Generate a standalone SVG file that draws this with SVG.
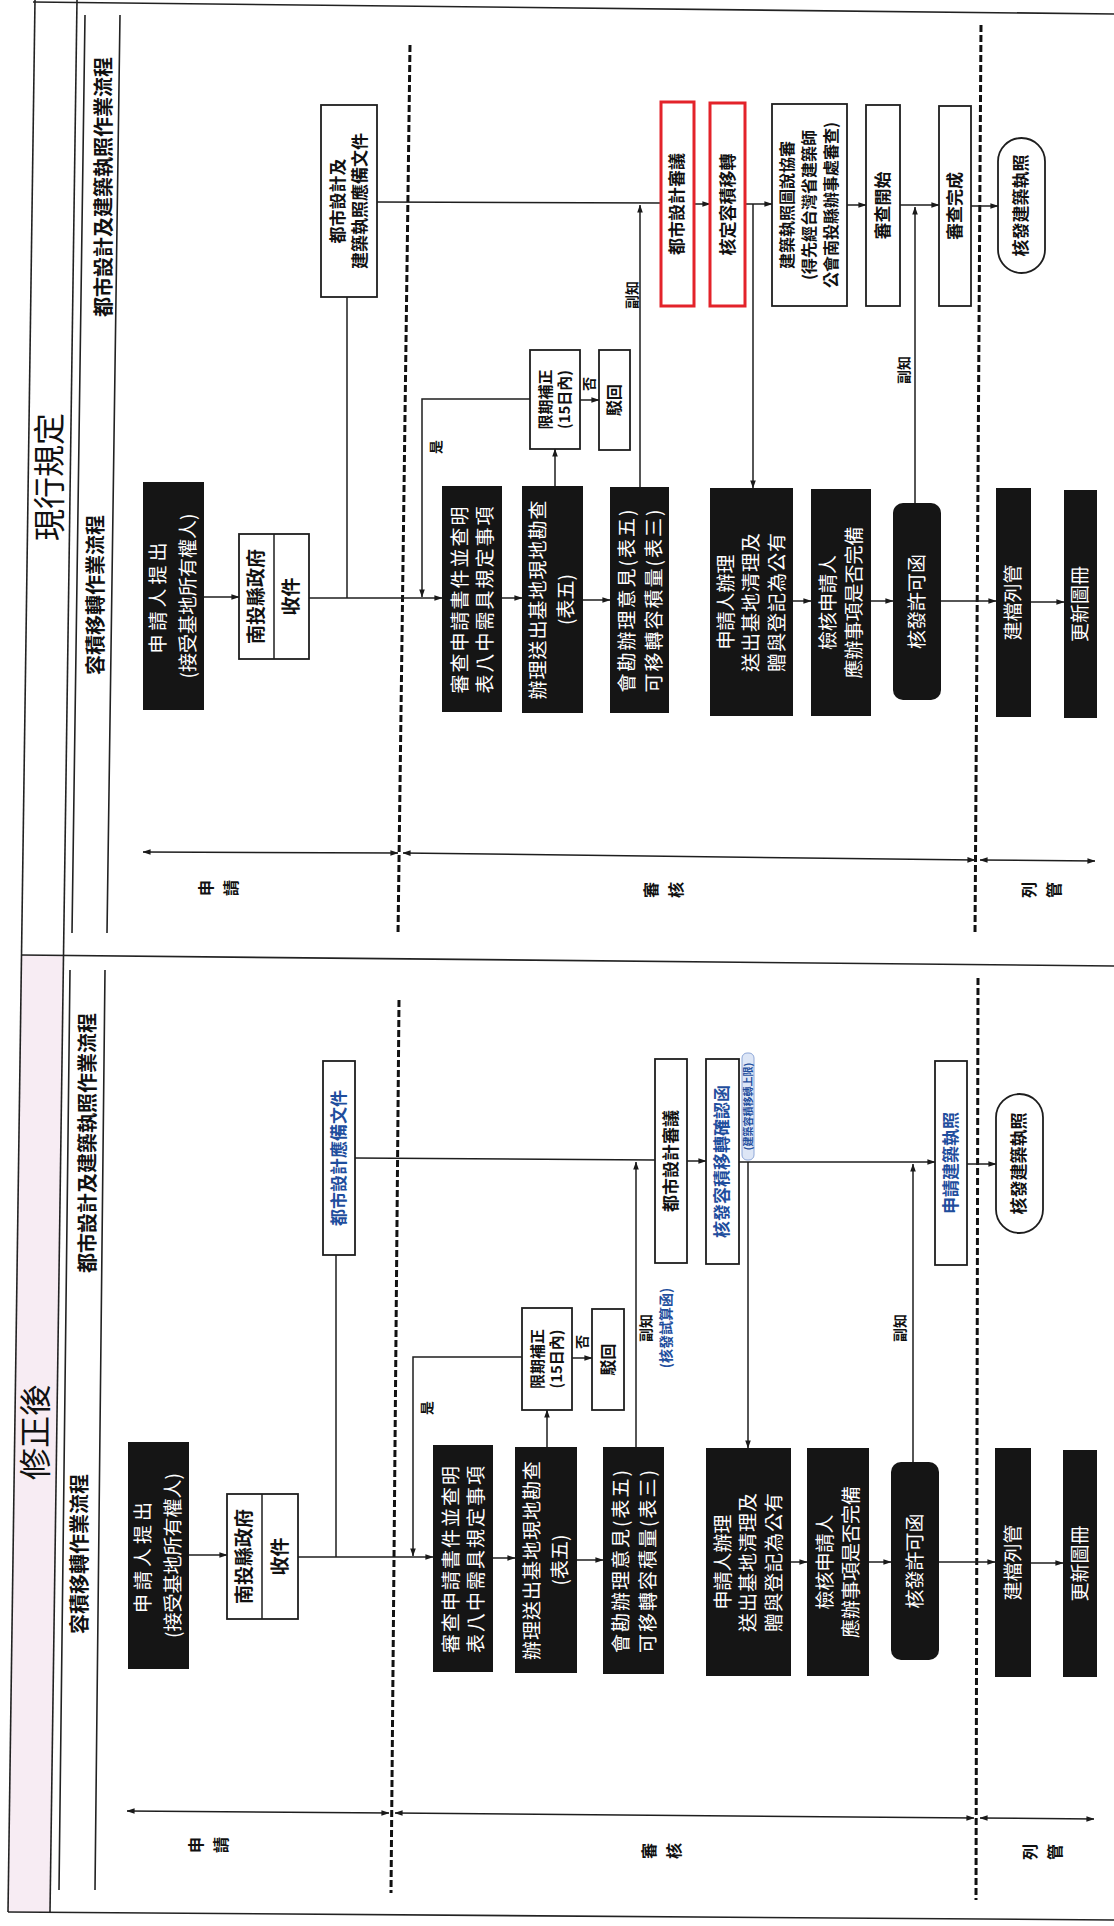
<svg xmlns="http://www.w3.org/2000/svg" width="1114" height="1926" viewBox="0 0 1114 1926">
<style>
text{font-family:"Noto Sans CJK TC","Noto Sans CJK SC",sans-serif;text-anchor:middle}
.bx{fill:#fff;stroke:#1e1e1e;stroke-width:1.8}
.blk{fill:#151515}
.red{fill:#fff;stroke:#e3232a;stroke-width:3}
.ln{fill:none;stroke:#1e1e1e;stroke-width:1.5}
.ar{marker-end:url(#a)}
.dar{marker-start:url(#a);marker-end:url(#a)}
.frm{fill:none;stroke:#222;stroke-width:1.6}
.dash{fill:none;stroke:#111;stroke-width:3;stroke-dasharray:7 3}
.w{fill:#fff;font-size:19px}
.ls{letter-spacing:2px}
.b{fill:#111;font-weight:700;font-size:17px}
.s{fill:#111;font-weight:700;font-size:14px}
.sub{fill:#111;font-weight:700;font-size:20px}
.ttl{fill:#111;font-size:32px}
.ph{fill:#111;font-weight:700;font-size:16px}
.blue{fill:#1f4e9d}
</style>
<defs>
<marker id="a" viewBox="0 0 10 10" refX="9.5" refY="5" markerWidth="8" markerHeight="8" markerUnits="userSpaceOnUse" orient="auto-start-reverse"><path d="M0,1.5 L10,5 L0,8.5z" fill="#1a1a1a"/></marker>
</defs>
<rect width="1114" height="1926" fill="#fff"/>

<g id="frame">
<polygon points="21,955 63,955 50,1912 8,1912" fill="#f7ecf3"/>
<path class="frm" d="M33,2 L1114,14"/>
<path class="frm" d="M35,0 L8,1912"/>
<path class="frm" d="M77,0 L50,1912"/>
<path class="frm" d="M21,955 L1114,966"/>
<path class="frm" d="M8,1912 L1114,1920"/>
<path class="frm" d="M85,15 L72,933 M120,15 L107,933"/>
<path class="frm" d="M70,970 L59,1890 M105,970 L95,1890"/>
<path class="dash" d="M410,45 L398,935 M981,25 L975,935"/>
<path class="dash" d="M399,1000 L391,1893 M978,978 L976,1900"/>
</g>

<g id="titles">
<text class="ttl" transform="translate(50,477) rotate(-90)" y="11.2">現行規定</text>
<text class="ttl" transform="translate(36,1432) rotate(-90)" y="11.2">修正後</text>
<text class="sub" transform="translate(104,187) rotate(-90)" y="7">都市設計及建築執照作業流程</text>
<text class="sub" transform="translate(96,595) rotate(-90)" y="7">容積移轉作業流程</text>
<text class="sub" transform="translate(88,1143) rotate(-90)" y="7">都市設計及建築執照作業流程</text>
<text class="sub" transform="translate(80,1554) rotate(-90)" y="7">容積移轉作業流程</text>
<text class="ph" transform="translate(219,888) rotate(-90)"><tspan x="0" y="-6.9">申</tspan><tspan x="0" y="18.1">請</tspan></text>
<text class="ph" transform="translate(664,890) rotate(-90)"><tspan x="0" y="-6.9">審</tspan><tspan x="0" y="18.1">核</tspan></text>
<text class="ph" transform="translate(1042,890) rotate(-90)"><tspan x="0" y="-6.9">列</tspan><tspan x="0" y="18.1">管</tspan></text>
<text class="ph" transform="translate(209,1845) rotate(-90)"><tspan x="0" y="-6.9">申</tspan><tspan x="0" y="18.1">請</tspan></text>
<text class="ph" transform="translate(662,1851) rotate(-90)"><tspan x="0" y="-6.9">審</tspan><tspan x="0" y="18.1">核</tspan></text>
<text class="ph" transform="translate(1043,1852) rotate(-90)"><tspan x="0" y="-6.9">列</tspan><tspan x="0" y="18.1">管</tspan></text>
</g>

<g id="connectors">
<path class="ln dar" d="M143,852 L398,853"/>
<path class="ln dar" d="M403,853 L975,860"/>
<path class="ln dar" d="M980,860 L1095,861"/>
<path class="ln ar" d="M204,597 H239"/>
<path class="ln ar" d="M309,598 H442"/>
<path class="ln" d="M347,297 V598"/>
<path class="ln" d="M377,202 L661,203"/>
<path class="ln ar" d="M640,487 V205"/>
<path class="ln ar" d="M694,204 H710"/>
<path class="ln ar" d="M745,204 H772"/>
<path class="ln ar" d="M753,204 V488"/>
<path class="ln ar" d="M847,205 H866"/>
<path class="ln ar" d="M900,205 H939"/>
<path class="ln ar" d="M915,503 V207"/>
<path class="ln ar" d="M971,206 H998"/>
<path class="ln ar" d="M502,598 H522"/>
<path class="ln ar" d="M555,486 V449"/>
<path class="ln ar" d="M580,400 H599"/>
<path class="ln ar" d="M530,399 H422 V597"/>
<path class="ln ar" d="M583,600 H610"/>
<path class="ln ar" d="M793,601 H811"/>
<path class="ln ar" d="M871,601 H893"/>
<path class="ln ar" d="M941,601 H996"/>
<path class="ln ar" d="M1031,602 H1064"/>

<path class="ln dar" d="M127,1811 L389,1813"/>
<path class="ln dar" d="M395,1813 L974,1818"/>
<path class="ln dar" d="M980,1818 L1094,1819"/>
<path class="ln ar" d="M189,1555 H227"/>
<path class="ln ar" d="M298,1557 H433"/>
<path class="ln" d="M336,1255 V1557"/>
<path class="ln" d="M355,1158 L655,1160"/>
<path class="ln ar" d="M636,1447 V1162"/>
<path class="ln ar" d="M687,1161 H706"/>
<path class="ln ar" d="M739,1162 H935"/>
<path class="ln ar" d="M748,1162 V1448"/>
<path class="ln ar" d="M913,1462 V1164"/>
<path class="ln ar" d="M967,1164 H996"/>
<path class="ln ar" d="M493,1558 H515"/>
<path class="ln ar" d="M547,1447 V1410"/>
<path class="ln ar" d="M572,1358 H592"/>
<path class="ln ar" d="M522,1357 H413 V1556"/>
<path class="ln ar" d="M577,1560 H603"/>
<path class="ln ar" d="M791,1562 H807"/>
<path class="ln ar" d="M869,1562 H891"/>
<path class="ln ar" d="M939,1562 H995"/>
<path class="ln ar" d="M1031,1563 H1063"/>

<text class="s" transform="translate(632,295) rotate(-90)" y="4.9">副知</text>
<text class="s" transform="translate(904,370) rotate(-90)" y="4.9">副知</text>
<text class="s" transform="translate(436,447) rotate(-90)" y="4.9">是</text>
<text class="s" transform="translate(589,384) rotate(-90)" y="4.9">否</text>
<text class="s" transform="translate(656,1328) rotate(-90)"><tspan x="0" y="-5.1">副知</tspan><tspan x="0" y="14.9" class="blue">(核發試算函)</tspan></text>
<text class="s" transform="translate(900,1328) rotate(-90)" y="4.9">副知</text>
<text class="s" transform="translate(427,1408) rotate(-90)" y="4.9">是</text>
<text class="s" transform="translate(582,1342) rotate(-90)" y="4.9">否</text>
</g>

<g id="T1"><rect class="blk" x="143" y="482" width="61" height="228"/>
<text class="w" transform="translate(173.5,596) rotate(-90)"><tspan x="0" y="-8.35" letter-spacing="4">申請人提出</tspan><tspan x="0" y="21.65">(接受基地所有權人)</tspan></text></g>
<g id="T2"><rect class="bx" x="239" y="534" width="70" height="125"/><path class="ln" d="M274,534 V659"/>
<text class="b" style="font-size:19px" transform="translate(256.5,596.5) rotate(-90)" y="6.65">南投縣政府</text>
<text class="b" style="font-size:19px" transform="translate(291.5,596.5) rotate(-90)" y="6.65">收件</text></g>
<g id="T3"><rect class="bx" x="321" y="105" width="56" height="192"/>
<text class="b" transform="translate(349,201) rotate(-90)"><tspan x="0" y="-5.05">都市設計及</tspan><tspan x="0" y="16.95">建築執照應備文件</tspan></text></g>
<g id="T4"><rect class="blk" x="442" y="486" width="60" height="226"/>
<text class="w ls" transform="translate(473,599) rotate(-90)"><tspan x="0" y="-5.85">審查申請書件並查明</tspan><tspan x="0" y="19.15">表八中需具規定事項</tspan></text></g>
<g id="T5"><rect class="blk" x="522" y="486" width="61" height="227"/>
<text class="w" transform="translate(552.5,599.5) rotate(-90)"><tspan x="0" y="-7.35" letter-spacing="1">辦理送出基地現地勘查</tspan><tspan x="0" y="20.65">(表五)</tspan></text></g>
<g id="T6"><rect class="bx" x="530" y="350" width="50" height="99"/>
<text class="b" style="font-size:15px" transform="translate(555,399.5) rotate(-90)"><tspan x="0" y="-4.25">限期補正</tspan><tspan x="0" y="14.75">(15日內)</tspan></text></g>
<g id="T7"><rect class="bx" x="599" y="350" width="31" height="100"/>
<text class="b" style="font-size:16px" transform="translate(614.5,400) rotate(-90)" y="5.6">駁回</text></g>
<g id="T8"><rect class="blk" x="610" y="487" width="59" height="226"/>
<text class="w ls" transform="translate(640.5,600) rotate(-90)"><tspan x="0" y="-6.85">會勘辦理意見(表五)</tspan><tspan x="0" y="20.15">可移轉容積量(表三)</tspan></text></g>
<g id="T9"><rect class="red" x="661" y="102" width="33" height="204"/>
<text class="b" transform="translate(677.5,204) rotate(-90)" y="5.95">都市設計審議</text></g>
<g id="T10"><rect class="red" x="710" y="103" width="35" height="203"/>
<text class="b" transform="translate(728,204.5) rotate(-90)" y="5.95">核定容積移轉</text></g>
<g id="T11"><rect class="bx" x="772" y="104" width="75" height="202"/>
<text class="b" style="font-size:16px" transform="translate(809.5,205) rotate(-90)"><tspan x="0" y="-16.4">建築執照圖說協審</tspan><tspan x="0" y="5.6">(得先經台灣省建築師</tspan><tspan x="0" y="27.6">公會南投縣辦事處審查)</tspan></text></g>
<g id="T12"><rect class="bx" x="866" y="105" width="34" height="201"/>
<text class="b" transform="translate(883,205.5) rotate(-90)" y="5.95">審查開始</text></g>
<g id="T13"><rect class="bx" x="939" y="106" width="32" height="200"/>
<text class="b" transform="translate(955,206) rotate(-90)" y="5.95">審查完成</text></g>
<g id="T14"><rect class="bx" x="998" y="138" width="47" height="135" rx="23.5"/>
<text class="b" transform="translate(1021.5,205.5) rotate(-90)" y="5.95">核發建築執照</text></g>
<g id="T15"><rect class="blk" x="710" y="488" width="83" height="228"/>
<text class="w" transform="translate(751.5,602) rotate(-90)"><tspan x="0" y="-18.85">申請人辦理</tspan><tspan x="0" y="6.65" letter-spacing="1">送出基地清理及</tspan><tspan x="0" y="32.15" letter-spacing="1">贈與登記為公有</tspan></text></g>
<g id="T16"><rect class="blk" x="811" y="489" width="60" height="227"/>
<text class="w" transform="translate(841,602.5) rotate(-90)"><tspan x="0" y="-6.35">檢核申請人</tspan><tspan x="0" y="19.65">應辦事項是否完備</tspan></text></g>
<g id="T17"><rect class="blk" x="893" y="503" width="48" height="197" rx="10"/>
<text class="w" transform="translate(917,601.5) rotate(-90)" y="6.65">核發許可函</text></g>
<g id="T18"><rect class="blk" x="996" y="488" width="35" height="229"/>
<text class="w" transform="translate(1013.5,602.5) rotate(-90)" y="6.65">建檔列管</text></g>
<g id="T19"><rect class="blk" x="1064" y="490" width="33" height="228"/>
<text class="w" transform="translate(1080.5,604) rotate(-90)" y="6.65">更新圖冊</text></g>

<g id="B1"><rect class="blk" x="128" y="1442" width="61" height="227"/>
<text class="w" transform="translate(158.5,1555.5) rotate(-90)"><tspan x="0" y="-8.35" letter-spacing="4">申請人提出</tspan><tspan x="0" y="21.65">(接受基地所有權人)</tspan></text></g>
<g id="B2"><rect class="bx" x="227" y="1494" width="71" height="125"/><path class="ln" d="M262,1494 V1619"/>
<text class="b" style="font-size:19px" transform="translate(244.5,1556.5) rotate(-90)" y="6.65">南投縣政府</text>
<text class="b" style="font-size:19px" transform="translate(280,1556.5) rotate(-90)" y="6.65">收件</text></g>
<g id="B3"><rect class="bx" x="323" y="1061" width="32" height="194"/>
<text class="b blue" transform="translate(339,1158) rotate(-90)" y="5.95">都市設計應備文件</text></g>
<g id="B4"><rect class="blk" x="433" y="1445" width="60" height="227"/>
<text class="w ls" transform="translate(464,1558.5) rotate(-90)"><tspan x="0" y="-5.85">審查申請書件並查明</tspan><tspan x="0" y="19.15">表八中需具規定事項</tspan></text></g>
<g id="B5"><rect class="blk" x="515" y="1447" width="62" height="226"/>
<text class="w" transform="translate(546,1560) rotate(-90)"><tspan x="0" y="-7.35" letter-spacing="1">辦理送出基地現地勘查</tspan><tspan x="0" y="20.65">(表五)</tspan></text></g>
<g id="B6"><rect class="bx" x="522" y="1308" width="50" height="102"/>
<text class="b" style="font-size:15px" transform="translate(547,1359) rotate(-90)"><tspan x="0" y="-4.25">限期補正</tspan><tspan x="0" y="14.75">(15日內)</tspan></text></g>
<g id="B7"><rect class="bx" x="592" y="1309" width="32" height="101"/>
<text class="b" style="font-size:16px" transform="translate(608,1359.5) rotate(-90)" y="5.6">駁回</text></g>
<g id="B8"><rect class="blk" x="603" y="1447" width="61" height="227"/>
<text class="w ls" transform="translate(634.5,1560.5) rotate(-90)"><tspan x="0" y="-6.85">會勘辦理意見(表五)</tspan><tspan x="0" y="20.15">可移轉容積量(表三)</tspan></text></g>
<g id="B9"><rect class="bx" x="655" y="1059" width="32" height="204"/>
<text class="b" transform="translate(671,1161) rotate(-90)" y="5.95">都市設計審議</text></g>
<g id="B10"><rect class="bx" x="706" y="1059" width="33" height="205"/>
<text class="b blue" transform="translate(722.5,1161.5) rotate(-90)" y="5.95">核發容積移轉確認函</text>
<rect x="742" y="1053" width="12" height="107" rx="5" fill="#dde6f6" stroke="#8fa8d8" stroke-width="1"/>
<text class="blue" style="font-size:10px;font-weight:700" transform="translate(748,1106.5) rotate(-90)" y="3.5">(建築容積移轉上限)</text></g>
<g id="B11"><rect class="blk" x="706" y="1448" width="85" height="228"/>
<text class="w" transform="translate(748.5,1562) rotate(-90)"><tspan x="0" y="-18.85">申請人辦理</tspan><tspan x="0" y="6.65" letter-spacing="1">送出基地清理及</tspan><tspan x="0" y="32.15" letter-spacing="1">贈與登記為公有</tspan></text></g>
<g id="B12"><rect class="blk" x="807" y="1448" width="62" height="228"/>
<text class="w" transform="translate(838,1562) rotate(-90)"><tspan x="0" y="-6.35">檢核申請人</tspan><tspan x="0" y="19.65">應辦事項是否完備</tspan></text></g>
<g id="B13"><rect class="blk" x="891" y="1462" width="48" height="198" rx="10"/>
<text class="w" transform="translate(915,1561) rotate(-90)" y="6.65">核發許可函</text></g>
<g id="B14"><rect class="bx" x="935" y="1061" width="32" height="204"/>
<text class="b blue" transform="translate(951,1163) rotate(-90)" y="5.95">申請建築執照</text></g>
<g id="B15"><rect class="bx" x="996" y="1094" width="47" height="139" rx="23.5"/>
<text class="b" transform="translate(1019.5,1163.5) rotate(-90)" y="5.95">核發建築執照</text></g>
<g id="B16"><rect class="blk" x="995" y="1448" width="36" height="229"/>
<text class="w" transform="translate(1013,1562.5) rotate(-90)" y="6.65">建檔列管</text></g>
<g id="B17"><rect class="blk" x="1063" y="1450" width="34" height="227"/>
<text class="w" transform="translate(1080,1563.5) rotate(-90)" y="6.65">更新圖冊</text></g>
</svg>
